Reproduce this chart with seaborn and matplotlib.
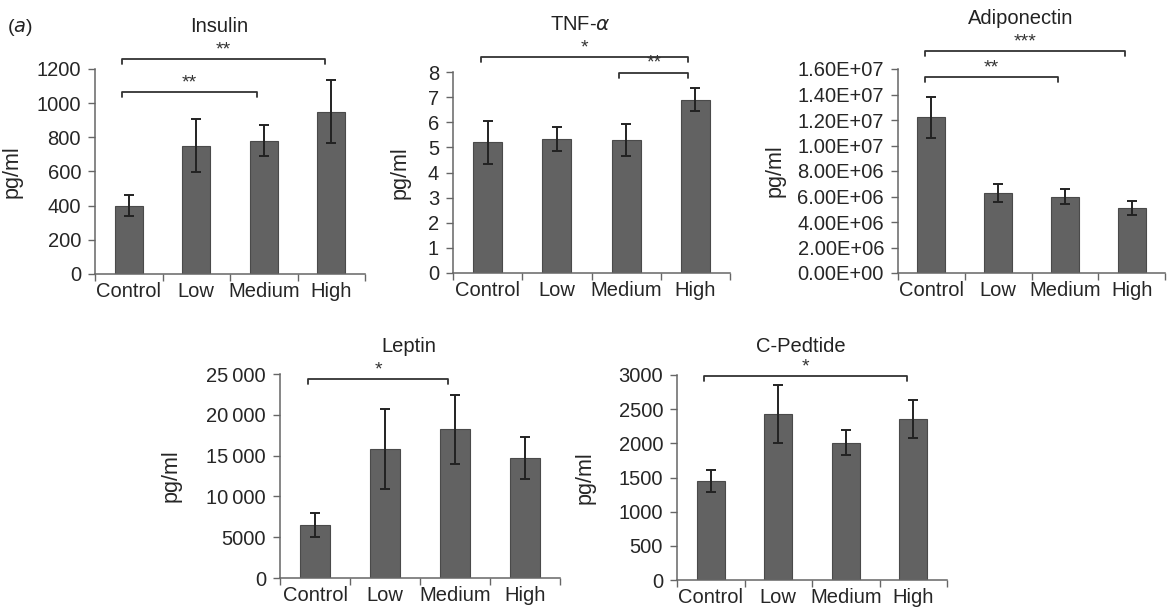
import matplotlib
matplotlib.use("Agg")
import matplotlib.pyplot as plt
import seaborn as sns
import numpy as np
from matplotlib.ticker import FuncFormatter, MultipleLocator

groups = ["Control", "Low", "Medium", "High"]

insulin = [400, 750, 780, 950]
insulin_err = [63, 155, 90, 183]

tnf = [5.2, 5.35, 5.3, 6.9]
tnf_err = [0.85, 0.48, 0.65, 0.45]

adipo = [1.22e7, 6.3e6, 6.0e6, 5.1e6]
adipo_err = [1.6e6, 7.0e5, 5.5e5, 5.5e5]

leptin = [6500, 15800, 18200, 14700]
leptin_err = [1450, 4900, 4200, 2600]

cpep = [1450, 2430, 2010, 2360]
cpep_err = [160, 425, 180, 280]

sns.set_style("white")
plt.rcParams['font.family'] = ['Liberation Sans', 'DejaVu Sans']
plt.rcParams['text.color'] = '#222222'

W, H = 1172, 611
fig = plt.figure(figsize=(W / 100, H / 100), dpi=100)


def make_ax(x0, x1, y0, y1):
    return fig.add_axes([x0 / W, (H - y1) / H, (x1 - x0) / W, (y1 - y0) / H])


def panel(ax, vals, errs, title, ymax, step, fmt, title_dy, ylab_x, brackets):
    sns.barplot(x=groups, y=vals, ax=ax, color='#626262', width=0.42,
                edgecolor='#4a4a4a', linewidth=0.8, errorbar=None, saturation=1)
    ax.errorbar(range(len(groups)), vals, yerr=errs, fmt='none', ecolor='#222222',
                elinewidth=1.4, capsize=3.5, capthick=1.4)
    ax.set_xlim(-0.5, 3.5)
    ax.set_ylim(0, ymax)
    ax.yaxis.set_major_locator(MultipleLocator(step))
    ax.yaxis.set_major_formatter(FuncFormatter(fmt))
    ax.set_xticks(np.arange(-0.5, 4, 1), minor=True)
    ax.tick_params(axis='x', which='major', length=0, pad=6, labelsize=14.5)
    ax.tick_params(axis='x', which='minor', length=5, width=1, color='#666666', direction='out')
    ax.tick_params(axis='y', length=5, width=1, color='#666666', direction='out', pad=5, labelsize=14.5)
    ax.tick_params(bottom=True, left=True, which='both')
    sns.despine(ax=ax)
    for s in ['left', 'bottom']:
        ax.spines[s].set_color('#666666')
        ax.spines[s].set_linewidth(1.1)
    ax.set_xlabel('')
    ax.set_ylabel('pg/ml', fontsize=15.5)
    ax.yaxis.set_label_coords(ylab_x, 0.5)
    ax.text(0.46, 1 + title_dy, title, transform=ax.transAxes, ha='center', va='center', fontsize=14.5)
    arm = 0.025 * ymax
    for a, b, yb, stars in brackets:
        xa, xb = a - 0.1, b - 0.1
        ax.plot([xa, xa, xb, xb], [yb - arm, yb, yb, yb - arm], color='#333333', lw=1.3, clip_on=False)
        ax.text((xa + xb) / 2, yb + 0.004 * ymax, stars, ha='center', va='bottom', fontsize=14, color='#333333')


plain = lambda v, p: f"{v:.0f}"
spaced = lambda v, p: (f"{int(v):,}".replace(',', '\u2009') if v >= 10000 else f"{v:.0f}")
sci = lambda v, p: f"{v:.2E}"

ax1 = make_ax(95, 365, 69, 274)
panel(ax1, insulin, insulin_err, 'Insulin', 1200, 200, plain, 42 / 205, -0.27,
      [(0, 3, 1258, '**'), (0, 2, 1065, '**')])

ax2 = make_ax(453, 730, 72, 273)
panel(ax2, tnf, tnf_err, r'TNF-$\alpha$', 8, 1, plain, 48 / 201, -0.155,
      [(0, 3, 8.6, '*'), (2, 3, 7.97, '**')])

ax3 = make_ax(898, 1165, 69, 273)
panel(ax3, adipo, adipo_err, 'Adiponectin', 1.6e7, 2e6, sci, 51 / 204, -0.42,
      [(0, 3, 1.74e7, '***'), (0, 2, 1.537e7, '**')])

ax4 = make_ax(280, 560, 374, 578)
panel(ax4, leptin, leptin_err, 'Leptin', 25000, 5000, spaced, 28 / 204, -0.35,
      [(0, 2, 24390, '*')])

ax5 = make_ax(677, 947, 375, 580)
panel(ax5, cpep, cpep_err, 'C-Pedtide', 3000, 500, plain, 29 / 205, -0.30,
      [(0, 3, 2985, '*')])

fig.text(20 / W, 1 - 27 / H, r'($\mathit{a}$)', ha='center', va='center', fontsize=14)

fig.savefig('out.png', dpi=100, facecolor='white')
